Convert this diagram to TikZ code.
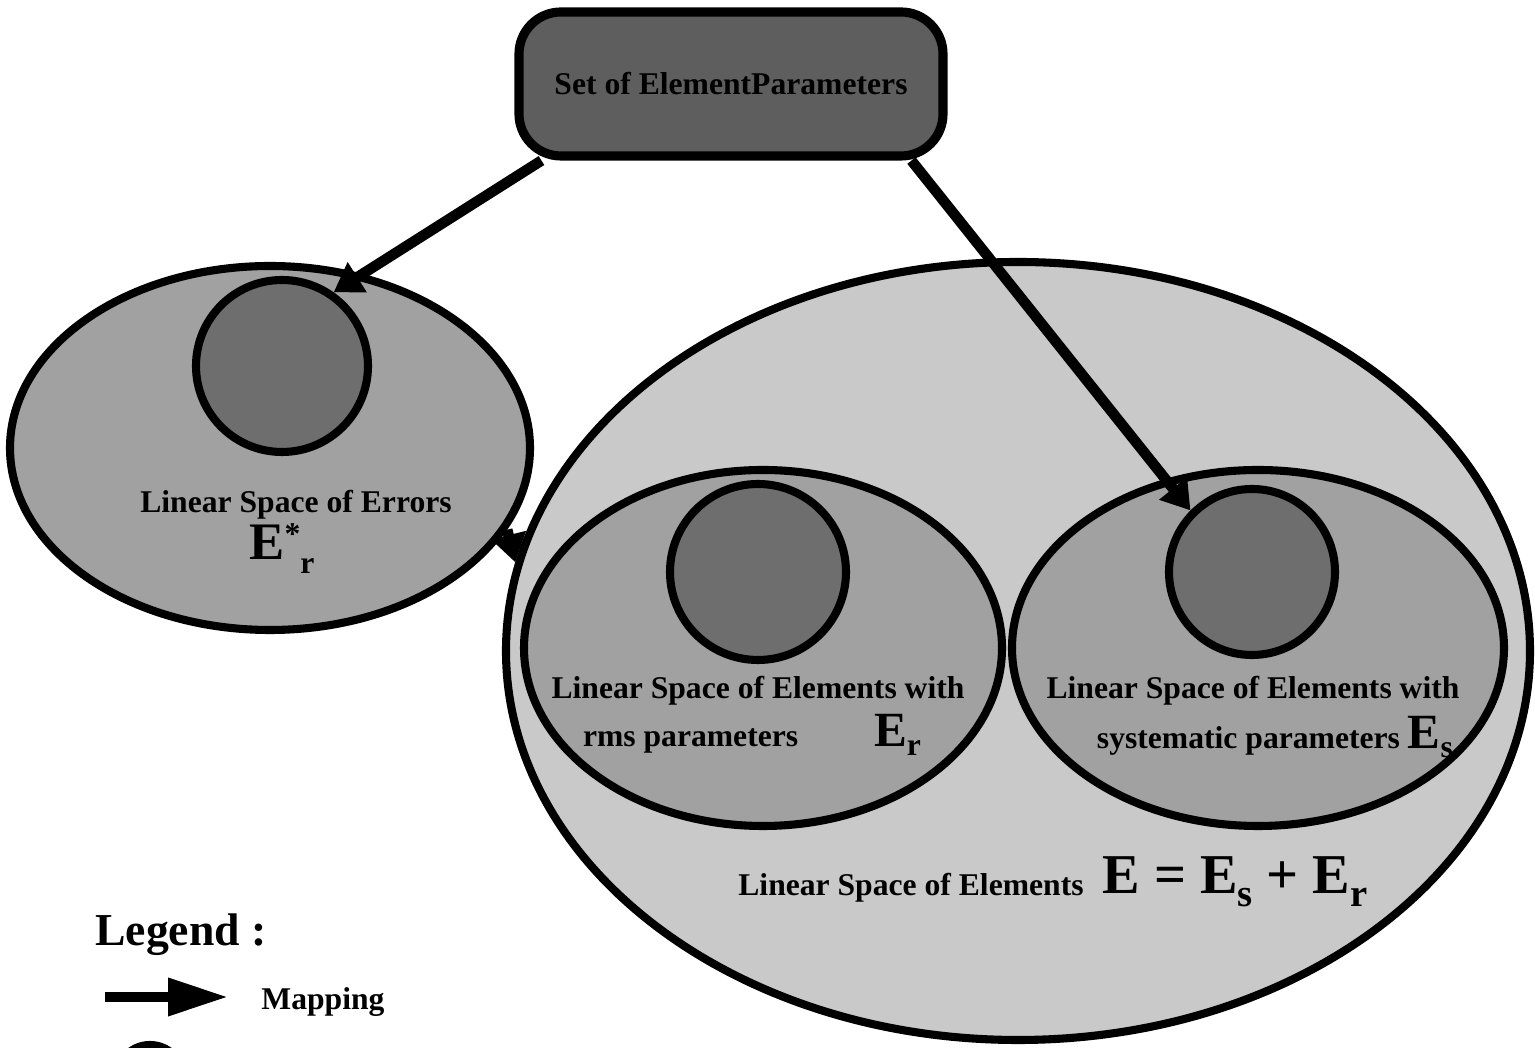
\documentclass[tikz,border=0pt]{standalone}
\usepackage{fontspec}
\setmainfont{Liberation Serif}
\usepackage{tikz}
\usetikzlibrary{arrows.meta,positioning,shapes.geometric}
\definecolor{OuterGray}{gray}{0.79}
\definecolor{MidGray}{gray}{0.63}
\definecolor{CoreGray}{gray}{0.43}
\definecolor{BoxGray}{gray}{0.37}
\newcommand{\bigE}[1]{{\fontsize{#1}{#1}\selectfont E}}

\begin{document}
\begin{tikzpicture}[
  every node/.style={font=\bfseries\fontsize{9}{11}\selectfont},
  space/.style={ellipse,draw,line width=2.3pt,inner sep=0pt},
  core/.style={circle,draw,line width=2.3pt,fill=CoreGray,inner sep=0pt},
  paramset/.style={rectangle,rounded corners=0.42cm,draw,line width=2.6pt,fill=BoxGray,
    minimum width=4.24cm,minimum height=1.44cm},
  map/.style={-{Triangle[length=2.8mm,width=3.4mm]},line width=3pt}]
\useasboundingbox (0,0) rectangle (15.35,10.48);
% element spaces
\node[space,fill=OuterGray,minimum width=10.24cm,minimum height=7.78cm] (elem) at (10.18,3.97) {};
\node[space,fill=MidGray,minimum width=4.78cm,minimum height=3.56cm] (rms) at (7.63,4.00) {};
\node[space,fill=MidGray,minimum width=4.92cm,minimum height=3.56cm] (sys) at (12.58,4.00) {};
\node[core,minimum size=1.76cm] (rmsin) at (7.58,4.76) {};
\node[core,minimum size=1.66cm] (sysin) at (12.52,4.76) {};
% error space
\node[space,fill=MidGray,minimum width=5.2cm,minimum height=3.64cm] (errsp) at (2.70,6.00) {};
\node[core,minimum size=1.72cm] (errin) at (2.82,6.82) {};
% parameters
\node[paramset] (setp) at (7.31,9.64) {Set of ElementParameters};
\draw[map] (setp.202) -- (errin.55);
\draw[map] (setp.337) -- (sysin.135);
\draw[map] (errsp.341) -- (elem.170);
% labels
\node (errtxt) at (2.96,5.43) {Linear Space of Errors};
\node (errsym) at (2.82,4.99) {\bigE{15}\raisebox{1ex}{*}\raisebox{-1ex}{r}};
\node (rmstxt) at (7.58,3.57) {Linear Space of Elements with};
\node (rmssym) at (7.52,3.07) {rms parameters\hspace{2.4em}\smash{\bigE{14}\raisebox{-0.6ex}{r}}};
\node (systxt) at (12.53,3.57) {Linear Space of Elements with};
\node (syssym) at (12.75,3.07) {systematic parameters \smash{\bigE{14}\raisebox{-0.6ex}{s}}};
\node (elemtxt) at (9.11,1.60) {Linear Space of Elements};
\node (elemeq) at (12.35,1.66) {\fontsize{16}{16}\selectfont E = E\raisebox{-0.5ex}{\fontsize{11}{11}\selectfont s} + E\raisebox{-0.5ex}{\fontsize{11}{11}\selectfont r}};
% legend
\node[font=\bfseries\fontsize{13}{15}\selectfont] (legend) at (1.81,1.13) {Legend :};
\coordinate (lgA) at (1.05,0.51);
\coordinate (lgB) at (2.28,0.51);
\draw[-{Triangle[length=6mm,width=3.6mm]},line width=2.8pt] (lgA) -- (lgB);
\node (mapping) at (3.23,0.46) {Mapping};
\node[core,minimum size=0.66cm] (lgcirc) at (1.50,-0.30) {};
\end{tikzpicture}
\end{document}
